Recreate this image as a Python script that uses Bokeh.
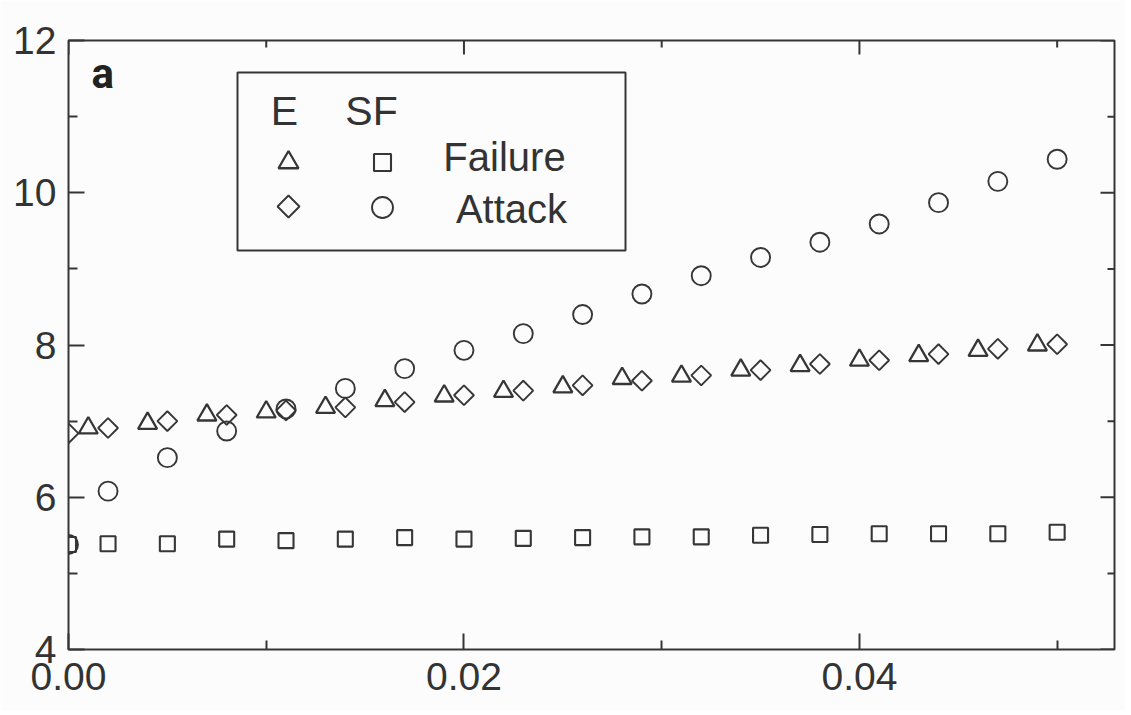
import math
from bokeh.plotting import figure
from bokeh.models import (FixedTicker, BoxAnnotation, Label, Range1d,
                          NumeralTickFormatter)
from bokeh.embed import file_html
from bokeh.resources import INLINE

# ---- data ----
x_e_failure = [0.001, 0.004, 0.007, 0.010, 0.013, 0.016, 0.019, 0.022, 0.025,
               0.028, 0.031, 0.034, 0.037, 0.040, 0.043, 0.046, 0.049]
y_e_failure = [6.91, 6.97, 7.08, 7.12, 7.18, 7.27, 7.33, 7.39, 7.45,
               7.56, 7.59, 7.67, 7.73, 7.80, 7.86, 7.93, 8.00]

x_f = [0.000, 0.002, 0.005, 0.008, 0.011, 0.014, 0.017, 0.020, 0.023,
       0.026, 0.029, 0.032, 0.035, 0.038, 0.041, 0.044, 0.047, 0.050]
y_e_attack = [6.84, 6.91, 7.00, 7.08, 7.14, 7.18, 7.25, 7.34, 7.40,
              7.47, 7.53, 7.60, 7.67, 7.75, 7.80, 7.88, 7.95, 8.01]
y_sf_failure = [5.38, 5.39, 5.39, 5.45, 5.43, 5.45, 5.47, 5.45, 5.46,
                5.47, 5.48, 5.48, 5.50, 5.51, 5.52, 5.52, 5.52, 5.54]
y_sf_attack = [5.38, 6.08, 6.52, 6.87, 7.16, 7.43, 7.69, 7.93, 8.15,
               8.40, 8.67, 8.91, 9.15, 9.35, 9.59, 9.87, 10.15, 10.44]

x_major = [0.00, 0.02, 0.04]
x_minor = [0.01, 0.03, 0.05]
y_major = [4, 6, 8, 10, 12]
y_minor = [5, 7, 9, 11]

legend_cols = ["E", "SF"]
legend_rows = ["Failure", "Attack"]
panel_label = "a"

# ---- style ----
INK = "#363636"
TXT = "#333333"
FONT = "Liberation Sans"
XMAX = 0.0529
YMIN, YMAX = 4, 12

# frame placement in page pixels
FL, FR, FT, FB = 68, 1114, 40, 649
W, H = 1125, 710

p = figure(width=W, height=H, output_backend="svg", toolbar_location=None,
           x_range=Range1d(0, XMAX), y_range=Range1d(YMIN, YMAX),
           min_border_left=FL, min_border_right=W - FR, min_border_top=FT,
           min_border_bottom=H - FB, background_fill_color="#fcfcfc",
           border_fill_color="#fcfcfc")
p.grid.visible = False
p.outline_line_color = INK
p.outline_line_width = 2
p.outline_line_alpha = 1

for ax in (p.xaxis[0], p.yaxis[0]):
    ax.axis_line_color = None
    ax.major_tick_in = 16
    ax.major_tick_out = 0
    ax.minor_tick_in = 9
    ax.minor_tick_out = 0
    ax.major_tick_line_color = INK
    ax.minor_tick_line_color = INK
    ax.major_tick_line_width = 2
    ax.minor_tick_line_width = 2
    ax.major_label_text_font = FONT
    ax.major_label_text_font_size = "39px"
    ax.major_label_text_color = TXT

p.xaxis[0].ticker = FixedTicker(ticks=x_major, minor_ticks=x_minor)
p.xaxis[0].formatter = NumeralTickFormatter(format="0.00")
p.xaxis[0].major_label_standoff = 13
p.yaxis[0].ticker = FixedTicker(ticks=y_major, minor_ticks=y_minor)
p.yaxis[0].major_label_standoff = 12

# inward ticks on the top and right edges of the frame
tick_style = dict(line_color=INK, line_width=2, length_units="screen")
p.ray(x=x_major, y=[YMAX] * len(x_major), length=14, angle=-math.pi / 2, **tick_style)
p.ray(x=x_minor, y=[YMAX] * len(x_minor), length=7, angle=-math.pi / 2, **tick_style)
p.ray(x=[XMAX] * len(y_major), y=y_major, length=14, angle=math.pi, **tick_style)
p.ray(x=[XMAX] * len(y_minor), y=y_minor, length=7, angle=math.pi, **tick_style)

# ---- data marks ----
p.scatter(x_e_failure, y_e_failure, marker="triangle", size=19, fill_color=None,
          line_color=INK, line_width=2.3)
p.scatter(x_f, y_e_attack, marker="square", angle=math.pi / 4, size=14,
          fill_color=None, line_color=INK, line_width=1.9)
p.scatter(x_f, y_sf_failure, marker="square", size=15, fill_color=None,
          line_color=INK, line_width=2.1)
p.scatter(x_f, y_sf_attack, marker="circle", size=19, fill_color=None,
          line_color=INK, line_width=1.9)

# ---- helpers to place decorations (page pixels -> data) ----
def dx(px):
    return (px - FL) / (FR - FL) * XMAX
def dy(py):
    return YMAX - (py - FT) / (FB - FT) * (YMAX - YMIN)

# panel label
p.add_layout(Label(x=dx(91), y=dy(73), text=panel_label, text_font="Roboto",
                   text_font_size="42px", text_font_style="bold",
                   text_color="#222222", text_baseline="middle"))

# legend box
p.add_layout(BoxAnnotation(left=dx(237), right=dx(625), top=dy(72), bottom=dy(250),
                           fill_alpha=0, line_color=INK, line_width=2, line_alpha=1))
for txt, px in zip(legend_cols, (284, 371)):
    p.add_layout(Label(x=dx(px), y=dy(110), text=txt, text_font=FONT,
                       text_font_size="41px", text_color=TXT,
                       text_align="center", text_baseline="middle"))
for txt, px, py in zip(legend_rows, (504, 511), (156, 208)):
    p.add_layout(Label(x=dx(px), y=dy(py), text=txt, text_font=FONT,
                       text_font_size="40px", text_color=TXT,
                       text_align="center", text_baseline="middle"))
p.scatter([dx(288)], [dy(162)], marker="triangle", size=20, fill_color=None,
          line_color=INK, line_width=2.3)
p.scatter([dx(382)], [dy(162)], marker="square", size=17, fill_color=None,
          line_color=INK, line_width=2.1)
p.scatter([dx(288)], [dy(206)], marker="square", angle=math.pi / 4, size=15.5,
          fill_color=None, line_color=INK, line_width=1.9)
p.scatter([dx(382)], [dy(207)], marker="circle", size=21, fill_color=None,
          line_color=INK, line_width=1.9)

open("out.html", "w").write(file_html(p, INLINE))
